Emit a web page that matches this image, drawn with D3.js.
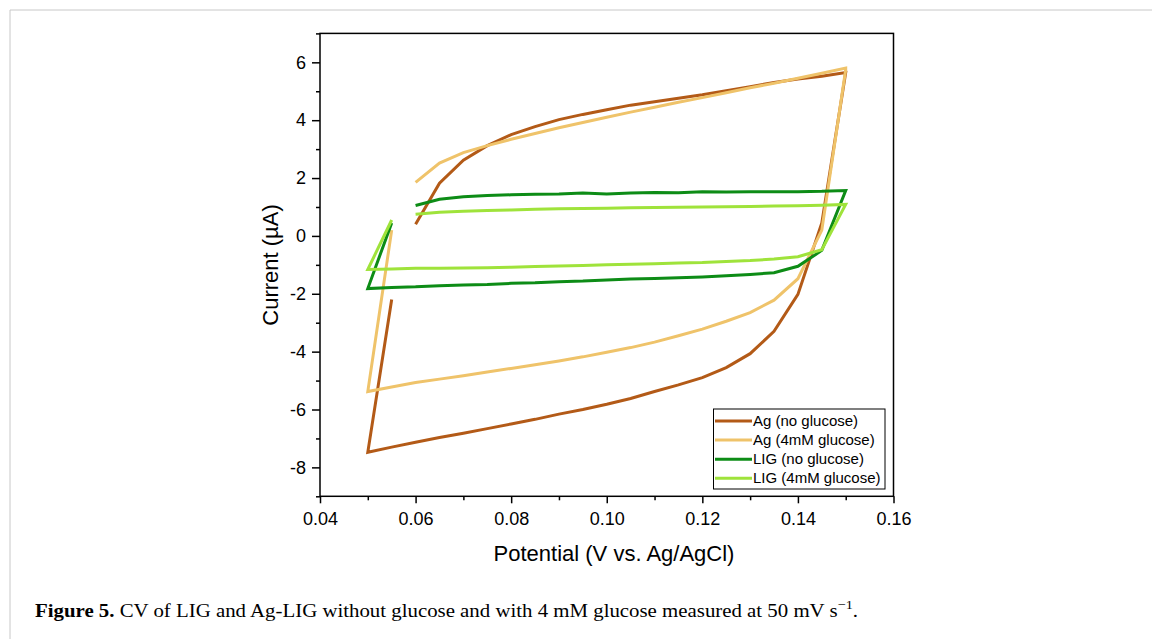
<html>
<head>
<meta charset="utf-8">
<script src="https://d3js.org/d3.v7.min.js"></script>
<style>
  body { margin: 0; background: #fff; }
  svg { display: block; }
</style>
</head>
<body>
<svg width="1152" height="639"></svg>
<script>
// potential steps (V): forward sweep, then reverse sweep
const potFwd = [0.060, 0.065, 0.070, 0.075, 0.080, 0.085, 0.090, 0.095, 0.100, 0.105,
                0.110, 0.115, 0.120, 0.125, 0.130, 0.135, 0.140, 0.145, 0.150];
const potRev = [0.150, 0.145, 0.140, 0.135, 0.130, 0.125, 0.120, 0.115, 0.110, 0.105,
                0.100, 0.095, 0.090, 0.085, 0.080, 0.075, 0.070, 0.065, 0.060, 0.055,
                0.050, 0.055];

// currents (uA)
const agNoFwd = [0.40, 1.82, 2.62, 3.12, 3.50, 3.78, 4.02, 4.20, 4.36, 4.52,
                 4.64, 4.76, 4.88, 5.02, 5.16, 5.30, 5.42, 5.52, 5.65];
const agNoRev = [5.65, 0.45, -2.02, -3.30, -4.07, -4.55, -4.90, -5.15, -5.38, -5.62,
                 -5.82, -6.00, -6.16, -6.34, -6.50, -6.66, -6.82, -6.97, -7.13, -7.30,
                 -7.48, -2.20];
const ag4Fwd = [1.85, 2.52, 2.88, 3.12, 3.34, 3.54, 3.74, 3.92, 4.10, 4.28,
                4.45, 4.62, 4.78, 4.95, 5.12, 5.28, 5.45, 5.62, 5.80];
const ag4Rev = [5.75, 0.20, -1.48, -2.22, -2.65, -2.95, -3.22, -3.45, -3.67, -3.86,
                -4.02, -4.18, -4.32, -4.45, -4.58, -4.70, -4.83, -4.95, -5.07, -5.22,
                -5.38, 0.20];
const ligNoFwd = [1.05, 1.27, 1.35, 1.40, 1.42, 1.44, 1.45, 1.48, 1.45, 1.48,
                  1.50, 1.49, 1.53, 1.52, 1.53, 1.53, 1.53, 1.54, 1.57];
const ligNoRev = [1.57, -0.50, -1.05, -1.27, -1.33, -1.38, -1.42, -1.45, -1.47, -1.49,
                  -1.52, -1.56, -1.58, -1.62, -1.64, -1.68, -1.70, -1.72, -1.76, -1.78,
                  -1.82, 0.45];
const lig4Fwd = [0.75, 0.82, 0.85, 0.88, 0.90, 0.92, 0.94, 0.95, 0.96, 0.97,
                 0.98, 0.99, 1.00, 1.01, 1.02, 1.03, 1.04, 1.06, 1.09];
const lig4Rev = [1.09, -0.48, -0.72, -0.80, -0.85, -0.88, -0.92, -0.94, -0.96, -0.98,
                 -1.00, -1.02, -1.04, -1.06, -1.08, -1.10, -1.11, -1.12, -1.12, -1.14,
                 -1.16, 0.55];

const seriesNames = ["Ag (no glucose)", "Ag (4mM glucose)", "LIG (no glucose)", "LIG (4mM glucose)"];
const seriesColors = ["#b35a17", "#efc36a", "#0d8c16", "#9fe33b"];
const xTicks = [0.04, 0.06, 0.08, 0.10, 0.12, 0.14, 0.16];
const yTicks = [-8, -6, -4, -2, 0, 2, 4, 6];

function loop(fwd, rev) {
  return potFwd.map((p, i) => [p, fwd[i]]).concat(potRev.map((p, i) => [p, rev[i]]));
}
const series = [loop(agNoFwd, agNoRev), loop(ag4Fwd, ag4Rev), loop(ligNoFwd, ligNoRev), loop(lig4Fwd, lig4Rev)];

const svg = d3.select("svg");
const L = 320, R = 893.5, T = 33.4, B = 496.3;
const xs = d3.scaleLinear().domain([0.04, 0.16]).range([L, R]);
const ys = d3.scaleLinear().domain([-9, 7]).range([B, T]);

// page frame
svg.append("path").attr("d", "M10,639 V10 H1152").attr("fill", "none")
  .attr("stroke", "#c8c8c8").attr("stroke-width", 1);

// curves
const line = d3.line().x(d => xs(d[0])).y(d => ys(d[1]));
svg.append("g").selectAll("path").data(series).enter().append("path")
  .attr("d", line)
  .attr("fill", "none")
  .attr("stroke", (d, i) => seriesColors[i])
  .attr("stroke-width", 3)
  .attr("stroke-linejoin", "miter");

// frame
svg.append("rect").attr("x", L).attr("y", T).attr("width", R - L).attr("height", B - T)
  .attr("fill", "none").attr("stroke", "#000").attr("stroke-width", 1.5);

// x axis
const xAxis = svg.append("g").attr("transform", "translate(0," + B + ")")
  .call(d3.axisBottom(xs).tickValues(xTicks).tickFormat(d3.format(".2f")).tickSize(7).tickPadding(9));
xAxis.select(".domain").remove();
xAxis.selectAll(".tick line").attr("stroke-width", 1.5);
xAxis.selectAll("text").attr("font-family", "Liberation Sans, Arial").attr("font-size", 18).attr("fill", "#000");
svg.append("g").attr("transform", "translate(0," + B + ")")
  .call(d3.axisBottom(xs).tickValues([0.05, 0.07, 0.09, 0.11, 0.13, 0.15]).tickFormat("").tickSize(4))
  .call(g => g.select(".domain").remove())
  .selectAll(".tick line").attr("stroke-width", 1.5);

// y axis
const yAxis = svg.append("g").attr("transform", "translate(" + L + ",0)")
  .call(d3.axisLeft(ys).tickValues(yTicks).tickFormat(d => String(d)).tickSize(8).tickPadding(6));
yAxis.select(".domain").remove();
yAxis.selectAll(".tick line").attr("stroke-width", 1.5);
yAxis.selectAll("text").attr("font-family", "Liberation Sans, Arial").attr("font-size", 18).attr("fill", "#000");
svg.append("g").attr("transform", "translate(" + L + ",0)")
  .call(d3.axisLeft(ys).tickValues([-9, -7, -5, -3, -1, 1, 3, 5, 7]).tickFormat("").tickSize(4))
  .call(g => g.select(".domain").remove())
  .selectAll(".tick line").attr("stroke-width", 1.5);

// axis titles
svg.append("text").attr("x", 614).attr("y", 561).attr("text-anchor", "middle")
  .attr("font-family", "Liberation Sans, Arial").attr("font-size", 22)
  .text("Potential (V vs. Ag/AgCl)");
svg.append("text").attr("transform", "translate(278,265) rotate(-90)").attr("text-anchor", "middle")
  .attr("font-family", "Liberation Sans, Arial").attr("font-size", 22)
  .text("Current (\u00b5A)");

// legend
const lg = svg.append("g");
lg.append("rect").attr("x", 713.5).attr("y", 409).attr("width", 171.5).attr("height", 80)
  .attr("fill", "#fff").attr("stroke", "#000").attr("stroke-width", 1);
seriesNames.forEach((name, i) => {
  const y = 421 + i * 19.1;
  lg.append("line").attr("x1", 715).attr("x2", 752).attr("y1", y).attr("y2", y)
    .attr("stroke", seriesColors[i]).attr("stroke-width", 3);
  lg.append("text").attr("x", 753).attr("y", y + 5).attr("font-family", "Liberation Sans, Arial")
    .attr("font-size", 15).text(name);
});

// caption
const cap = svg.append("text").attr("x", 35).attr("y", 617)
  .attr("font-family", "Liberation Serif, Times New Roman, serif").attr("font-size", 19)
  .attr("textLength", 823).attr("lengthAdjust", "spacingAndGlyphs");
cap.append("tspan").attr("font-weight", "bold").text("Figure 5.");
cap.append("tspan").text(" CV of LIG and Ag-LIG without glucose and with 4\u00a0mM glucose measured at 50\u00a0mV s");
cap.append("tspan").attr("dy", -8).attr("font-size", 13).text("\u22121");
cap.append("tspan").attr("dy", 8).text(".");
</script>
</body>
</html>
